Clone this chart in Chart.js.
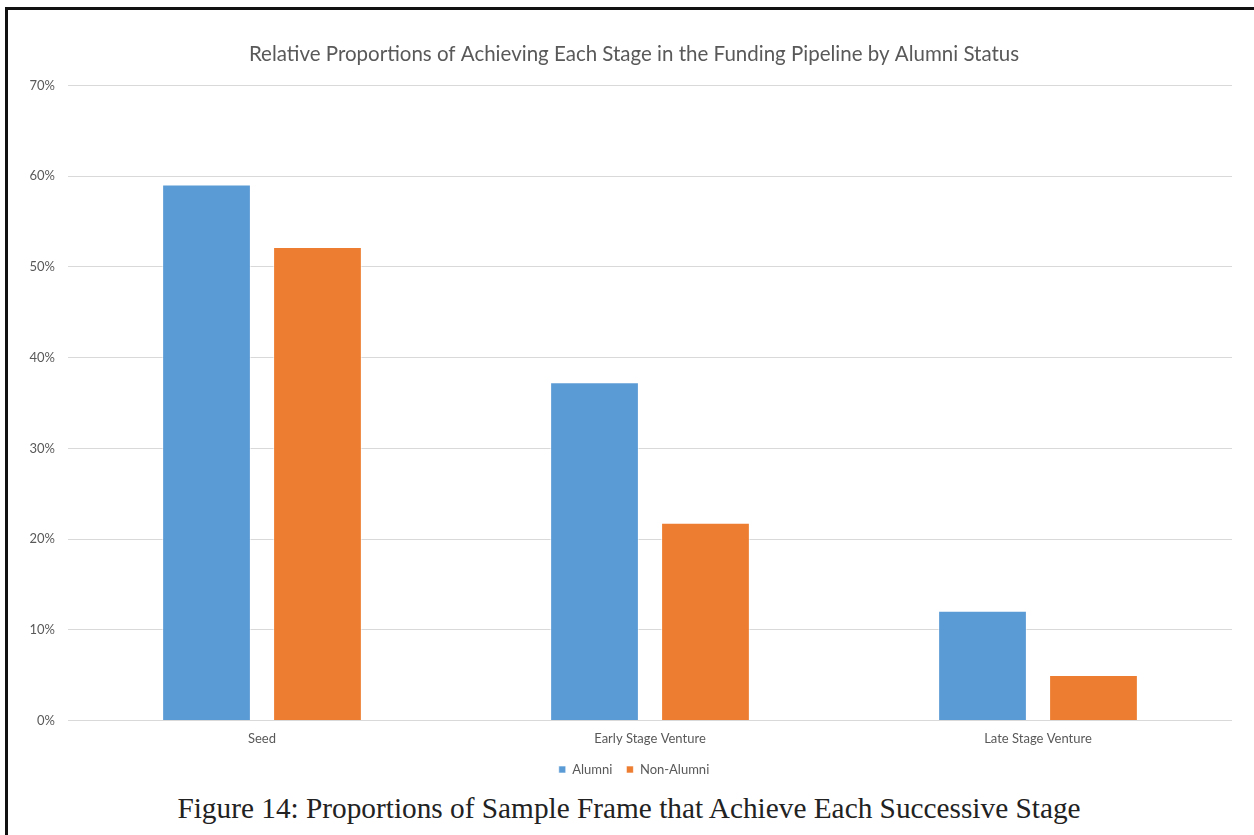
<!DOCTYPE html>
<html>
<head>
<meta charset="utf-8">
<script src="https://cdn.jsdelivr.net/npm/chart.js@4.4.0/dist/chart.umd.min.js"></script>
<style>
    html, body { margin: 0; padding: 0; background: #fff; }
    body { width: 1254px; height: 835px; position: relative; overflow: hidden; }
    #frame {
        position: absolute; left: 5px; top: 7px; right: -10px; bottom: -10px;
        border-left: 3px solid #111; border-top: 3px solid #111;
    }
    #chart-box { position: absolute; left: 0; top: 0; width: 1254px; height: 790px; }
    #caption {
        position: absolute; left: 2px; width: 1254px; top: 792px;
        text-align: center; font-family: "Liberation Serif", serif; font-size: 29.3px; color: #222;
    }
</style>
</head>
<body>
<div id="frame"></div>
<div id="chart-box"><canvas id="stage-chart"></canvas></div>
<div id="caption">Figure 14: Proportions of Sample Frame that Achieve Each Successive Stage</div>
<script>
const stages = ['Seed', 'Early Stage Venture', 'Late Stage Venture'];
const alumniShare = [59.1, 37.3, 12.1];
const nonAlumniShare = [52.2, 21.8, 5.0];
const yTicks = [0, 10, 20, 30, 40, 50, 60, 70];

const labelFont = 'Lato, "Open Sans", sans-serif';

// nudge title and legend right so they sit centred over the plot rather than the canvas
const centreBlocks = {
    id: 'centreBlocks',
    afterLayout(chart) {
        const shift = 36;
        if (chart.titleBlock) chart.titleBlock.left += shift;
        if (chart.legend) chart.legend.left += shift;
    }
};

function buildChart() {
    const ctx = document.getElementById('stage-chart').getContext('2d');
    new Chart(ctx, {
        type: 'bar',
        data: {
            labels: stages,
            datasets: [{
                label: 'Alumni',
                data: alumniShare,
                backgroundColor: '#5B9BD5',
                borderColor: 'rgba(255,255,255,0.6)',
                borderWidth: 1
            }, {
                label: 'Non-Alumni',
                data: nonAlumniShare,
                backgroundColor: '#ED7D31',
                borderColor: 'rgba(255,255,255,0.6)',
                borderWidth: 1
            }]
        },
        plugins: [centreBlocks],
        options: {
            responsive: true,
            maintainAspectRatio: false,
            animation: false,
            categoryPercentage: 0.572,
            barPercentage: 0.8,
            layout: { padding: { left: 0, right: 22, top: 0, bottom: 4 } },
            plugins: {
                title: {
                    display: true,
                    text: 'Relative Proportions of Achieving Each Stage in the Funding Pipeline by Alumni Status',
                    color: '#595959',
                    font: { family: labelFont, size: 20.5, weight: 'normal' },
                    padding: { top: 42, bottom: 19 }
                },
                legend: {
                    position: 'bottom',
                    labels: {
                        boxWidth: 7,
                        boxHeight: 7,
                        padding: 14,
                        color: '#595959',
                        font: { family: labelFont, size: 13 }
                    }
                },
                tooltip: { enabled: false }
            },
            scales: {
                x: {
                    afterFit: axis => { axis.height -= 1; },
                    grid: { display: false },
                    border: { display: false },
                    ticks: {
                        color: '#595959',
                        font: { family: labelFont, size: 13 },
                        padding: 3
                    }
                },
                y: {
                    min: 0,
                    max: 70,
                    afterBuildTicks: axis => {
                        axis.ticks = yTicks.map(v => ({ value: v }));
                    },
                    afterFit: axis => { axis.width = 68; },
                    grid: { color: '#d9d9d9', lineWidth: 1, drawTicks: false },
                    border: { display: false },
                    ticks: {
                        color: '#595959',
                        font: { family: labelFont, size: 13 },
                        padding: 13,
                        callback: v => v + '%'
                    }
                }
            }
        }
    });
}

window.onload = buildChart;
</script>
</body>
</html>
